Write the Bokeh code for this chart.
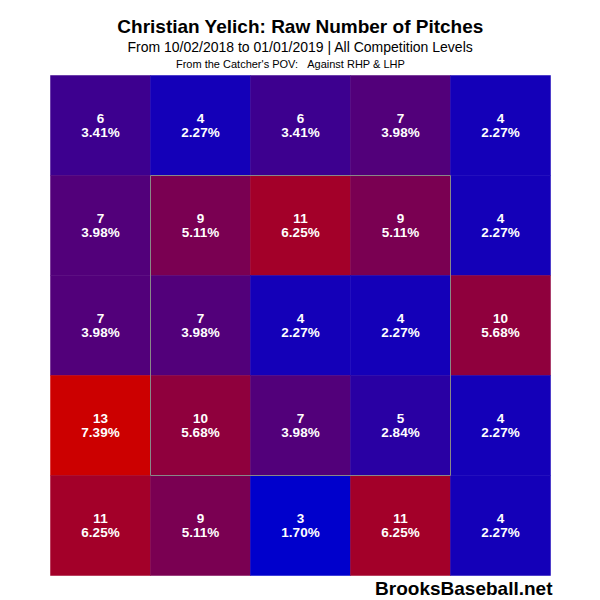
from bokeh.plotting import figure
from bokeh.models import Range1d, ColumnDataSource
from bokeh.transform import linear_cmap
from bokeh.core.properties import value
from bokeh.embed import file_html
from bokeh.resources import INLINE

# Data: pitch counts by zone, catcher's POV; rows top->bottom, cols left->right
counts_row0 = [6, 4, 6, 7, 4]
counts_row1 = [7, 9, 11, 9, 4]
counts_row2 = [7, 7, 4, 4, 10]
counts_row3 = [13, 10, 7, 5, 4]
counts_row4 = [11, 9, 3, 11, 4]
rows = [counts_row0, counts_row1, counts_row2, counts_row3, counts_row4]

title_text = "Christian Yelich: Raw Number of Pitches"
subtitle_text = "From 10/02/2018 to 01/01/2019 | All Competition Levels"
subtitle2_text = "From the Catcher's POV:\u00a0\u00a0\u00a0Against RHP & LHP"
watermark_text = "BrooksBaseball.net"

total = sum(sum(r) for r in rows)
xs, ys, cs, pcts = [], [], [], []
for j, r in enumerate(rows):
    for i, c in enumerate(r):
        xs.append(i)
        ys.append(j)
        cs.append(str(c))
        pcts.append(f"{c / total * 100:.2f}%")
vals = [int(c) for c in cs]
src = ColumnDataSource(dict(x=xs, y=ys, v=vals, count=cs, pct=pcts))

# blue -> red palette
palette = []
n = 256
for k in range(n):
    t = k / (n - 1)
    r = round(204 * t)
    b = round(204 * (1 - t))
    palette.append("#%02x%02x%02x" % (r, 0, b))

p = figure(width=600, height=600, output_backend="svg", toolbar_location=None,
           x_range=Range1d(-1.0, 5.0), y_range=Range1d(4.75, -1.25),
           x_axis_type=None, y_axis_type=None, min_border=0,
           outline_line_color=None, background_fill_color="white",
           border_fill_color="white")
p.grid.visible = False

cmap = linear_cmap("v", palette, low=min(vals), high=max(vals))
p.rect(x="x", y="y", width=1, height=1, source=src, fill_color=cmap,
       line_color=cmap, line_width=0.5)

# strike zone
p.rect(x=[2], y=[2], width=3, height=3, fill_color=None, line_color="#888888",
       line_width=1)

fnt = value("Liberation Sans")
p.text(x="x", y="y", text="count", source=src, y_offset=-7, text_color="white",
       text_font=fnt, text_font_style="bold", text_font_size="13.5px",
       text_align="center", text_baseline="middle")
p.text(x="x", y="y", text="pct", source=src, y_offset=7, text_color="white",
       text_font=fnt, text_font_style="bold", text_font_size="13.5px",
       text_align="center", text_baseline="middle")

p.text(x=[2], y=[-0.99], text=[title_text], text_font=fnt, text_font_style="bold",
       text_font_size="19px", text_align="center", text_baseline="middle",
       text_color="black")
p.text(x=[2], y=[-0.785], text=[subtitle_text], text_font=fnt,
       text_font_size="14px", text_align="center", text_baseline="middle",
       text_color="black")
p.text(x=[1.9], y=[-0.62], text=[subtitle2_text], text_font=fnt,
       text_font_size="11px", text_align="center", text_baseline="middle",
       text_color="black")
p.text(x=[4.52], y=[4.625], text=[watermark_text], text_font=fnt,
       text_font_style="bold", text_font_size="19px", text_align="right",
       text_baseline="middle", text_color="black")

open("out.html", "w").write(file_html(p, INLINE))
